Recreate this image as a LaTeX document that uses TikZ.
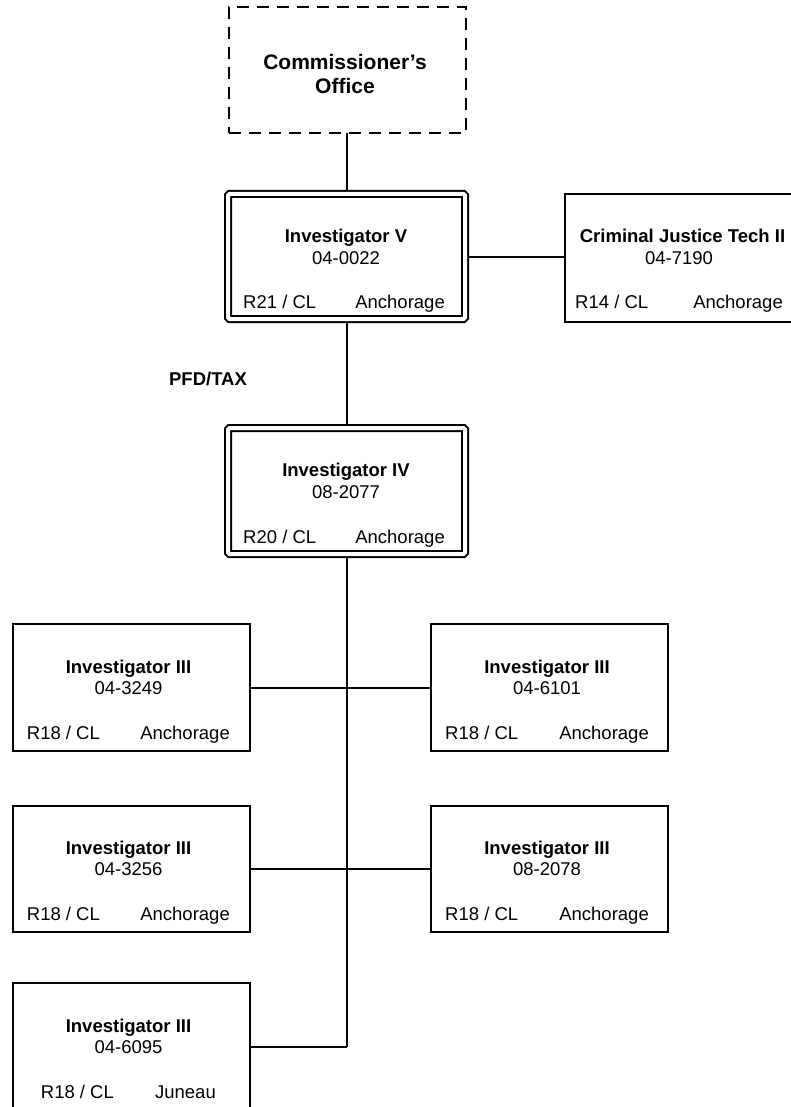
\documentclass[tikz,border=0pt]{standalone}
\usepackage{fontspec}
\setmainfont{Liberation Sans}
\begin{document}
\begin{tikzpicture}[x=1pt,y=-1pt,
  box/.style={draw, line width=2pt, minimum width=237pt, inner sep=0pt, outer sep=0pt},
  dbox/.style={draw, line width=2pt, double, double distance=4pt, rounded corners=1.5pt,
    minimum width=237pt, inner sep=0pt, outer sep=4pt},
  link/.style={line width=2pt},
  t/.style={inner sep=0pt, font=\fontsize{18.5}{21}\selectfont},
  tb/.style={inner sep=0pt, font=\fontsize{18.5}{21}\selectfont\bfseries},
  tc/.style={inner sep=0pt, font=\fontsize{21}{24}\selectfont\bfseries},
]
\useasboundingbox (0,0) rectangle (791,1107);
\clip (0,0) rectangle (791,1107);

% boxes
\node[box, dash pattern=on 12pt off 8pt, minimum height=126pt] (com) at (347.5,70) {};
\node[dbox, minimum height=125pt] (v) at (346.5,256.5) {};
\node[dbox, minimum height=126pt] (iv) at (346.5,491) {};
\node[box, minimum width=230pt, minimum height=128pt] (cjt) at (680,258) {};
\node[box, minimum height=127pt] (l1) at (131,687.5) {};
\node[box, minimum height=127pt] (r1) at (549.5,687.5) {};
\node[box, minimum height=126pt] (l2) at (131,869) {};
\node[box, minimum height=126pt] (r2) at (549.5,869) {};
\node[box, minimum height=127pt] (l3) at (131,1046.5) {};

% connectors
\draw[link] (v.north |- com.south) -- (v.north);
\draw[link] (v.east) -- (v.east -| cjt.west);
\draw[link] (v.south) -- (iv.north);
\draw[link] (iv.south) -- (iv.south |- l3.east);
\draw[link] (l1.east) -- (r1.west);
\draw[link] (l2.east) -- (r2.west);
\draw[link] (l3.east) -- (iv.south |- l3.east);

% texts
\node[tc, anchor=base] (comt1) at (345,69.5) {Commissioner’s};
\node[tc, anchor=base] (comt2) at (345,93.5) {Office};

\node[tb, anchor=base] (vt) at (346,242.5) {Investigator V};
\node[t, anchor=base] (vn) at (346,264.5) {04-0022};
\node[t, anchor=base west] (vl) at (243,308.5) {R21 / CL};
\node[t, anchor=base east] (vr) at (445,308.5) {Anchorage};

\node[tb, anchor=base] (ct) at (682.5,243) {Criminal Justice Tech II};
\node[t, anchor=base] (cn) at (679,264) {04-7190};
\node[t, anchor=base west] (cl) at (575,308.5) {R14 / CL};
\node[t, anchor=base east] (cr) at (783,308.5) {Anchorage};

\node[tb, anchor=base] (pfd) at (208,385) {PFD/TAX};

\node[tb, anchor=base] (ivt) at (346,476.5) {Investigator IV};
\node[t, anchor=base] (ivn) at (346,498.5) {08-2077};
\node[t, anchor=base west] (ivl) at (243,543.5) {R20 / CL};
\node[t, anchor=base east] (ivr) at (445,543.5) {Anchorage};

% row 1
\node[tb, anchor=base] (l1t) at (128.5,673.5) {Investigator III};
\node[t, anchor=base] (l1n) at (128.5,694.5) {04-3249};
\node[t, anchor=base west] (l1l) at (26.7,739.5) {R18 / CL};
\node[t, anchor=base east] (l1r) at (230,739.5) {Anchorage};

\node[tb, anchor=base] (r1t) at (547,673.5) {Investigator III};
\node[t, anchor=base] (r1n) at (547,694.5) {04-6101};
\node[t, anchor=base west] (r1l) at (445,739.5) {R18 / CL};
\node[t, anchor=base east] (r1r) at (649,739.5) {Anchorage};

% row 2
\node[tb, anchor=base] (l2t) at (128.5,854.5) {Investigator III};
\node[t, anchor=base] (l2n) at (128.5,875.5) {04-3256};
\node[t, anchor=base west] (l2l) at (26.7,920.5) {R18 / CL};
\node[t, anchor=base east] (l2r) at (230,920.5) {Anchorage};

\node[tb, anchor=base] (r2t) at (547,854.5) {Investigator III};
\node[t, anchor=base] (r2n) at (547,875.5) {08-2078};
\node[t, anchor=base west] (r2l) at (445,920.5) {R18 / CL};
\node[t, anchor=base east] (r2r) at (649,920.5) {Anchorage};

% row 3
\node[tb, anchor=base] (l3t) at (128.5,1032.5) {Investigator III};
\node[t, anchor=base] (l3n) at (128.5,1053.5) {04-6095};
\node[t, anchor=base west] (l3l) at (40.7,1098.5) {R18 / CL};
\node[t, anchor=base east] (l3r) at (216,1098.5) {Juneau};
\end{tikzpicture}
\end{document}
